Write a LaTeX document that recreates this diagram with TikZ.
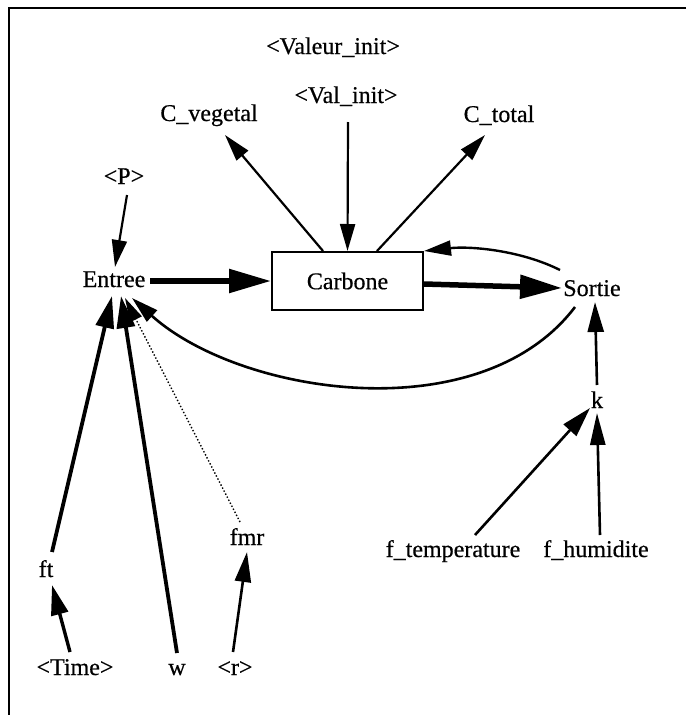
\documentclass[tikz,border=0pt]{standalone}
\usepackage{fontspec}
\setmainfont{Liberation Serif}
\newfontfamily\heavyfont{Liberation Serif}[FakeBold=0.5]
\usetikzlibrary{arrows.meta,calc}
\begin{document}
\begin{tikzpicture}[x=1pt,y=-1pt,
  lbl/.style={font=\heavyfont\fontsize{24}{28}\selectfont, inner sep=0pt, anchor=base},
  thinarr/.style={line width=2.2pt, -{Triangle[length=27pt,width=15pt]}},
  medarr/.style={line width=3.8pt, -{Triangle[length=32pt,width=18pt]}},
  thickarr/.style={line width=5.5pt, -{Triangle[length=42pt,width=23pt]}},
  dotarr/.style={line width=1.4pt, dotted, -{Triangle[length=24pt,width=13pt]}},
  boxnode/.style={draw, line width=2pt, minimum width=151pt, minimum height=58pt, inner sep=0pt, font=\heavyfont\fontsize{24}{28}\selectfont}
]
\useasboundingbox (0,0) rectangle (686,715);
\draw[line width=2pt] (686,8) -- (9,8) -- (9,715);

% nodes
\node[lbl] (vi) at (333,54) {<Valeur\_init>};
\node[lbl] (vali) at (346,103) {<Val\_init>};
\node[lbl] (cveg) at (209,121) {C\_vegetal};
\node[lbl] (ctot) at (499,122) {C\_total};
\node[lbl] (P) at (124,184) {<P>};
\node[lbl] (entree) at (114,287) {Entree};
\node[boxnode] (carbone) at (347.5,281) {Carbone};
\node[lbl] (sortie) at (592,296) {Sortie};
\node[lbl] (k) at (597,408) {k};
\node[lbl] (ftemp) at (453,557) {f\_temperature};
\node[lbl] (fhum) at (596,557) {f\_humidite};
\node[lbl] (fmr) at (247,545) {fmr};
\node[lbl] (ft) at (46,577) {ft};
\node[lbl] (time) at (75,675) {<Time>};
\node[lbl] (w) at (177,675) {w};
\node[lbl] (r) at (235,675) {<r>};

% connectors
\draw[thinarr] ($(carbone.north)+(-24.5,0)$) -- ($(cveg.base)+(16,14)$);
\draw[thinarr] ($(vali.base)+(2,19)$) -- (carbone.north);
\draw[thinarr] ($(carbone.north)+(29.5,0)$) -- ($(ctot.base)+(-14,13)$);
\draw[thinarr] ($(P.base)+(3,11)$) -- ($(entree.base)+(1,-20)$);
\draw[thickarr] ($(entree.base)+(36,-6)$) -- (carbone.west);
\draw[thickarr] ($(carbone.east)+(0,3)$) -- ($(sortie.base)+(-30,-8)$);
\draw[thinarr,line width=2.4pt] ($(sortie.base)+(-32,-26)$) .. controls (520,250) and (470,246) .. (carbone.north east);
\draw[thinarr,line width=2.6pt] ($(sortie.base)+(-17,11)$) .. controls (480,432) and (240,395) .. ($(entree.base)+(18,11)$);
\draw[medarr] ($(ft.base)+(6,-25)$) -- ($(entree.base)+(-2,9)$);
\draw[medarr] ($(w.base)+(0,-22)$) -- ($(entree.base)+(7,9)$);
\draw[dotarr] ($(fmr.base)+(-7,-23)$) -- ($(entree.base)+(11,11)$);
\draw[medarr,line width=3.4pt,-{Triangle[length=30pt,width=17pt]}] ($(time.base)+(-5,-23)$) -- ($(ft.base)+(6,8)$);
\draw[thinarr,line width=2.6pt,-{Triangle[length=30pt,width=16pt]}] ($(r.base)+(-2,-23)$) -- ($(fmr.base)+(0,7)$);
\draw[thinarr,line width=2.6pt,-{Triangle[length=30pt,width=16pt]}] ($(k.base)+(0,-23)$) -- ($(sortie.base)+(3,6)$);
\draw[thinarr,line width=2.6pt,-{Triangle[length=30pt,width=17pt]}] ($(ftemp.base)+(22,-22)$) -- ($(k.base)+(-7,0)$);
\draw[thinarr,line width=2.6pt,-{Triangle[length=32pt,width=15pt]}] ($(fhum.base)+(4,-22)$) -- ($(k.base)+(0,5)$);
\end{tikzpicture}
\end{document}
